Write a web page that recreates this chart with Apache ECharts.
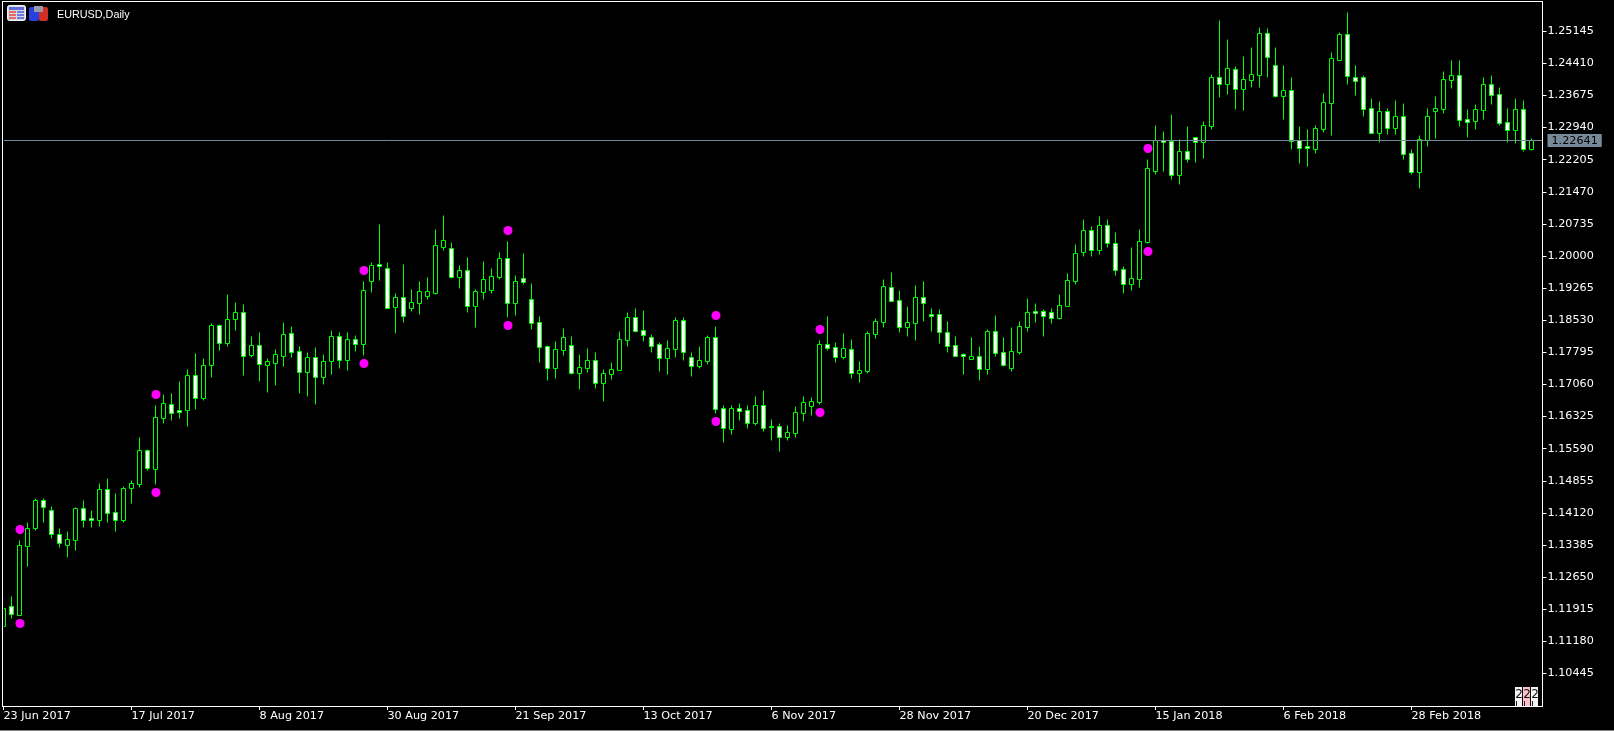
<!DOCTYPE html>
<html>
<head>
<meta charset="utf-8">
<style>html,body{margin:0;padding:0;background:#000;}#c{width:1614px;height:731px;}</style>
<script src="https://cdn.jsdelivr.net/npm/echarts@6/dist/echarts.min.js"></script>
</head>
<body>
<div id="c"></div>
<script>
const symbolName = 'EURUSD,Daily';
const dateLabels = ['23 Jun 2017','17 Jul 2017','8 Aug 2017','30 Aug 2017','21 Sep 2017','13 Oct 2017','6 Nov 2017','28 Nov 2017','20 Dec 2017','15 Jan 2018','6 Feb 2018','28 Feb 2018'];
const dateLabelBars = [0,16,32,48,64,80,96,112,128,144,160,176];
const priceTicks = [1.25145,1.24410,1.23675,1.22940,1.22205,1.21470,1.20735,1.20000,1.19265,1.18530,1.17795,1.17060,1.16325,1.15590,1.14855,1.14120,1.13385,1.12650,1.11915,1.11180,1.10445];
const currentPrice = 1.22641;

const opens = [1.11519,1.11977,1.11771,1.13350,1.13762,1.14403,1.14174,1.13625,1.13373,1.13488,1.14220,1.13991,1.13945,1.14655,1.14128,1.13945,
1.14678,1.14769,1.15547,1.15113,1.16280,1.16601,1.16463,1.16463,1.17264,1.16738,1.17493,1.18409,1.17997,1.18546,1.18706,1.17722,
1.17951,1.17493,1.17539,1.17699,1.18226,1.17814,1.17333,1.17676,1.17219,1.17585,1.18157,1.17608,1.18088,1.17974,1.19416,1.19805,
1.19713,1.18821,1.19050,1.18798,1.18912,1.19073,1.19141,1.20194,1.20171,1.19507,1.19668,1.18844,1.19164,1.19210,1.19507,1.19942,
1.18912,1.19485,1.19004,1.18478,1.17928,1.17424,1.17837,1.17951,1.17310,1.17424,1.17608,1.17081,1.17287,1.17379,1.18066,1.18592,
1.18294,1.18134,1.17974,1.17653,1.17860,1.18523,1.17676,1.17470,1.17585,1.18134,1.16509,1.16028,1.16509,1.16463,1.16166,1.16578,
1.16097,1.16097,1.15845,1.15937,1.16395,1.16555,1.16646,1.17974,1.17905,1.17676,1.17860,1.17310,1.17356,1.18203,1.18478,1.19279,
1.18981,1.18363,1.18455,1.19050,1.18660,1.18660,1.18249,1.17951,1.17745,1.17631,1.17699,1.17402,1.18272,1.17791,1.17424,1.17791,
1.18363,1.18729,1.18729,1.18706,1.18569,1.18844,1.19416,1.20080,1.20583,1.20126,1.20698,1.20286,1.19691,1.19347,1.19462,1.20309,
1.21934,1.22644,1.22621,1.21842,1.22392,1.22712,1.22598,1.22964,1.24086,1.23925,1.24269,1.23811,1.24017,1.24131,1.25093,1.24360,
1.23651,1.23788,1.22644,1.22506,1.22437,1.22895,1.23490,1.24475,1.25070,1.24086,1.24086,1.23376,1.22804,1.23307,1.22918,1.23193,
1.22346,1.21911,1.22644,1.23307,1.23353,1.24017,1.24131,1.23124,1.23078,1.23330,1.23925,1.23696,1.23055,1.22872,1.23353,1.22437];

const closes = [1.11931,1.11794,1.13373,1.13762,1.14403,1.14243,1.13625,1.13419,1.13510,1.14220,1.13945,1.13945,1.14655,1.14105,1.13945,1.14678,
1.14792,1.15547,1.15135,1.16303,1.16623,1.16395,1.16417,1.17264,1.16738,1.17493,1.18409,1.17997,1.18546,1.18706,1.17699,1.17951,
1.17516,1.17585,1.17745,1.18203,1.17791,1.17333,1.17676,1.17219,1.17585,1.18157,1.17608,1.18088,1.17974,1.19210,1.19782,1.19759,
1.18798,1.19050,1.18615,1.18935,1.19187,1.19187,1.20240,1.20355,1.19507,1.19668,1.18844,1.19187,1.19462,1.19530,1.19942,1.18912,
1.19416,1.19393,1.18455,1.17905,1.17424,1.17860,1.18134,1.17310,1.17447,1.17608,1.17081,1.17310,1.17402,1.18088,1.18592,1.18272,
1.18180,1.17928,1.17653,1.17882,1.18523,1.17791,1.17470,1.17608,1.18134,1.16486,1.16051,1.16509,1.16440,1.16166,1.16578,1.16051,
1.16074,1.15845,1.15959,1.16417,1.16646,1.16669,1.17974,1.17882,1.17676,1.17882,1.17310,1.17379,1.18226,1.18500,1.19301,1.18958,
1.18363,1.18478,1.19050,1.18912,1.18615,1.18249,1.17928,1.17699,1.17699,1.17699,1.17402,1.18272,1.17768,1.17493,1.17814,1.18386,
1.18706,1.18683,1.18615,1.18569,1.18867,1.19439,1.20057,1.20583,1.20126,1.20698,1.20286,1.19668,1.19347,1.19485,1.20332,1.22003,
1.22644,1.22598,1.21842,1.22392,1.22208,1.22598,1.22987,1.24086,1.23925,1.24292,1.23811,1.24040,1.24154,1.25093,1.24543,1.23651,
1.23788,1.22621,1.22460,1.22460,1.22918,1.23513,1.24520,1.25070,1.24108,1.23994,1.23353,1.22804,1.23307,1.22918,1.23193,1.22323,
1.21911,1.22666,1.23193,1.23376,1.24040,1.24131,1.23101,1.23055,1.23353,1.23925,1.23674,1.23032,1.22872,1.23353,1.22437,1.22641];

const lows = [1.11450,1.11702,1.11771,1.12892,1.13716,1.13899,1.13534,1.13327,1.13098,1.13259,1.13785,1.13785,1.13808,1.13899,1.13693,1.13899,
1.14334,1.14701,1.15089,1.14769,1.16166,1.16234,1.16280,1.16097,1.16486,1.16692,1.17219,1.17837,1.17928,1.18294,1.17264,1.17676,
1.17127,1.16875,1.17035,1.17470,1.17676,1.16852,1.16784,1.16601,1.17058,1.17287,1.17424,1.17379,1.17814,1.17722,1.19164,1.19439,
1.18798,1.18226,1.18478,1.18729,1.18660,1.19004,1.19118,1.20126,1.19485,1.19256,1.18706,1.18363,1.19004,1.19141,1.19462,1.18592,
1.18638,1.19347,1.18317,1.17562,1.17150,1.17196,1.17722,1.17287,1.16944,1.17333,1.16967,1.16669,1.17173,1.17379,1.17928,1.18249,
1.18043,1.17791,1.17356,1.17287,1.17676,1.17608,1.17241,1.17424,1.17516,1.16395,1.15731,1.15914,1.16234,1.16051,1.16120,1.15982,
1.15776,1.15524,1.15776,1.15845,1.16211,1.16349,1.16601,1.17837,1.17562,1.17631,1.17196,1.17104,1.17310,1.18111,1.18363,1.18958,
1.18249,1.18157,1.18066,1.18500,1.18272,1.17997,1.17791,1.17699,1.17287,1.17631,1.17150,1.17287,1.17699,1.17470,1.17356,1.17745,
1.18272,1.18478,1.18157,1.18455,1.18546,1.18844,1.19347,1.19988,1.19988,1.20034,1.20194,1.19553,1.19141,1.19210,1.19279,1.20286,
1.21865,1.21934,1.21751,1.21636,1.22140,1.22140,1.22231,1.22895,1.23628,1.23696,1.23353,1.23330,1.23857,1.23857,1.24086,1.23628,
1.23124,1.22437,1.22117,1.22048,1.22346,1.22827,1.22758,1.24475,1.23925,1.23674,1.23193,1.22804,1.22598,1.22781,1.22781,1.22208,
1.21865,1.21545,1.22506,1.22689,1.23262,1.23834,1.22964,1.22712,1.22895,1.23124,1.23467,1.22987,1.22598,1.22575,1.22392,1.22415];

const highs = [1.12068,1.12206,1.13488,1.13899,1.14449,1.14449,1.14266,1.13762,1.13693,1.14243,1.14403,1.14174,1.14792,1.14907,1.14563,1.14723,
1.14861,1.15845,1.15570,1.16578,1.16829,1.16852,1.17127,1.17402,1.17768,1.17653,1.18455,1.18432,1.19118,1.18935,1.18889,1.18157,
1.18249,1.17653,1.17860,1.18478,1.18386,1.17928,1.17791,1.17905,1.17745,1.18294,1.18249,1.18249,1.18180,1.19416,1.19851,1.20721,
1.19851,1.19141,1.19805,1.19233,1.19416,1.19507,1.20606,1.20927,1.20309,1.19782,1.19965,1.19233,1.19874,1.19713,1.20080,1.20332,
1.19553,1.20057,1.19370,1.18615,1.17951,1.18043,1.18340,1.18157,1.17745,1.17882,1.17791,1.17402,1.17562,1.18272,1.18706,1.18798,
1.18752,1.18203,1.18020,1.18066,1.18592,1.18592,1.17791,1.17928,1.18180,1.18386,1.16578,1.16578,1.16623,1.16578,1.16784,1.16921,
1.16257,1.16166,1.16120,1.16555,1.16784,1.16761,1.18066,1.18615,1.18020,1.18226,1.18088,1.17585,1.18272,1.18569,1.19462,1.19622,
1.19210,1.18844,1.19324,1.19416,1.18798,1.18775,1.18500,1.18157,1.17768,1.18134,1.17928,1.18317,1.18638,1.18134,1.18363,1.18500,
1.19027,1.18912,1.18775,1.18798,1.19118,1.19599,1.20263,1.20835,1.20675,1.20904,1.20835,1.20538,1.19759,1.20194,1.20606,1.22208,
1.22987,1.22849,1.23239,1.22666,1.22964,1.22712,1.23078,1.24154,1.25390,1.24955,1.24337,1.24566,1.24772,1.25230,1.25207,1.24772,
1.24360,1.24086,1.22964,1.22895,1.22987,1.23719,1.24658,1.25116,1.25573,1.24360,1.24131,1.23605,1.23536,1.23376,1.23559,1.23490,
1.22437,1.22758,1.23376,1.23651,1.24223,1.24475,1.24475,1.23353,1.23467,1.24086,1.24131,1.23857,1.23376,1.23605,1.23559,1.22689];

const dotBars = [2,2,19,19,45,45,63,63,89,89,102,102,143,143];
const dotPrices = [1.13739,1.11587,1.16829,1.14586,1.19668,1.17539,1.20583,1.18409,1.18638,1.16211,1.18317,1.16417,1.22460,1.20103];

const candleRows = opens.map((o, i) => [i, o, closes[i], lows[i], highs[i]]);
const dotRows = dotBars.map((b, i) => [b, dotPrices[i]]);

const WHITE = '#ffffff', LIME = '#00ff00', SLATE = '#778899';
const axisFont = 'DejaVu Sans';

function button(x, fill) {
  return [
    {type:'rect', shape:{x:x, y:687, width:7, height:19}, style:{fill:fill}, z:20},
    {type:'text', x:x+0.2, y:689, style:{text:'2', fill:'#111', font:'12px "DejaVu Sans"'}, z:21},
    {type:'rect', shape:{x:x+1, y:701, width:1, height:5}, style:{fill:'#222'}, z:21}
  ];
}
const graphics = [
  // plot frame; the black strip hides the part of the first bar that falls off the left edge
  {type:'rect', shape:{x:0,y:2,width:4,height:704}, style:{fill:'#000000'}, z:18},
  {type:'rect', shape:{x:2,y:1,width:1541,height:1}, style:{fill:WHITE}, z:19},
  {type:'rect', shape:{x:2,y:706,width:1541,height:1}, style:{fill:WHITE}, z:19},
  {type:'rect', shape:{x:2,y:1,width:1,height:706}, style:{fill:WHITE}, z:19},
  {type:'rect', shape:{x:1542,y:1,width:1,height:706}, style:{fill:WHITE}, z:19},
  // chart-window icons
  {type:'rect', shape:{x:7.5,y:5.5,width:18,height:15,r:2}, style:{fill:'#d8d8e8',stroke:'#f4f4f4',lineWidth:1}, z:20},
  {type:'rect', shape:{x:9,y:7,width:15,height:3}, style:{fill:'#5c6bd8'}, z:21},
  {type:'rect', shape:{x:9,y:11,width:7,height:2}, style:{fill:'#e86a60'}, z:21},
  {type:'rect', shape:{x:9,y:14,width:7,height:2}, style:{fill:'#e86a60'}, z:21},
  {type:'rect', shape:{x:9,y:17,width:7,height:2}, style:{fill:'#e86a60'}, z:21},
  {type:'rect', shape:{x:17,y:11,width:7,height:2}, style:{fill:'#6a7ae0'}, z:21},
  {type:'rect', shape:{x:17,y:14,width:7,height:2}, style:{fill:'#6a7ae0'}, z:21},
  {type:'rect', shape:{x:17,y:17,width:7,height:2}, style:{fill:'#6a7ae0'}, z:21},
  {type:'rect', shape:{x:29,y:7,width:10,height:14,r:2}, style:{fill:'#2a3fe0'}, z:20},
  {type:'rect', shape:{x:39,y:7,width:9,height:14,r:2}, style:{fill:'#d03028'}, z:20},
  {type:'rect', shape:{x:34,y:6,width:9,height:6}, style:{fill:'#9a9aa8'}, z:21},
  {type:'rect', shape:{x:0,y:730,width:1614,height:1}, style:{fill:'#808080'}, z:20},
  ...button(1515,'#f4f4f4'), ...button(1523,'#ffc0cb'), ...button(1531,'#f4f4f4')
];

const chart = echarts.init(document.getElementById('c'), null, {renderer:'canvas'});
chart.setOption({
  animation:false,
  backgroundColor:'#000000',
  title:{text:symbolName, left:52, top:5, textStyle:{color:WHITE, fontSize:10.8, fontWeight:'normal', fontFamily:'Liberation Sans'}},
  grid:{show:false, left:3.5, top:1, width:1539, height:705},
  xAxis:{
    type:'value', min:0, max:192.375,
    splitLine:{show:false},
    axisLine:{show:false, onZero:false},
    axisTick:{show:true, length:4, inside:false, lineStyle:{color:WHITE}, customValues:dateLabelBars},
    axisLabel:{color:WHITE, fontFamily:axisFont, fontSize:11.2, align:'left', margin:5, customValues:dateLabelBars,
      formatter:v => dateLabels[dateLabelBars.indexOf(v)] || ''}
  },
  yAxis:{
    type:'value', position:'right', min:1.09699, max:1.25837, scale:true,
    splitLine:{show:false},
    axisLine:{show:false, onZero:false},
    axisTick:{show:true, length:4, lineStyle:{color:WHITE}, customValues:priceTicks},
    axisLabel:{color:WHITE, fontFamily:axisFont, fontSize:11.2, margin:5, customValues:priceTicks, formatter:v => v.toFixed(5)}
  },
  series:[
    {
      type:'candlestick', barWidth:4, data:candleRows, clip:true,
      encode:{x:0, y:[1,2,3,4]},
      itemStyle:{color:'#000000', color0:'#ffffff', borderColor:LIME, borderColor0:LIME, borderWidth:1},
      markLine:{silent:true, symbol:'none', animation:false, precision:5,
        lineStyle:{color:SLATE, width:1, type:'solid'},
        label:{show:true, position:'end', distance:5, formatter:() => currentPrice.toFixed(5), color:'#000000', backgroundColor:SLATE,
          fontFamily:axisFont, fontSize:11.2, padding:[1,4,1,4]},
        data:[{yAxis:currentPrice}]}
    },
    {
      type:'scatter', data:dotRows, symbol:'circle', symbolSize:9, symbolOffset:[0.5,0], z:5, clip:false,
      itemStyle:{color:'#ff00ff', opacity:1}
    }
  ],
  graphic:graphics
});
</script>
</body>
</html>
